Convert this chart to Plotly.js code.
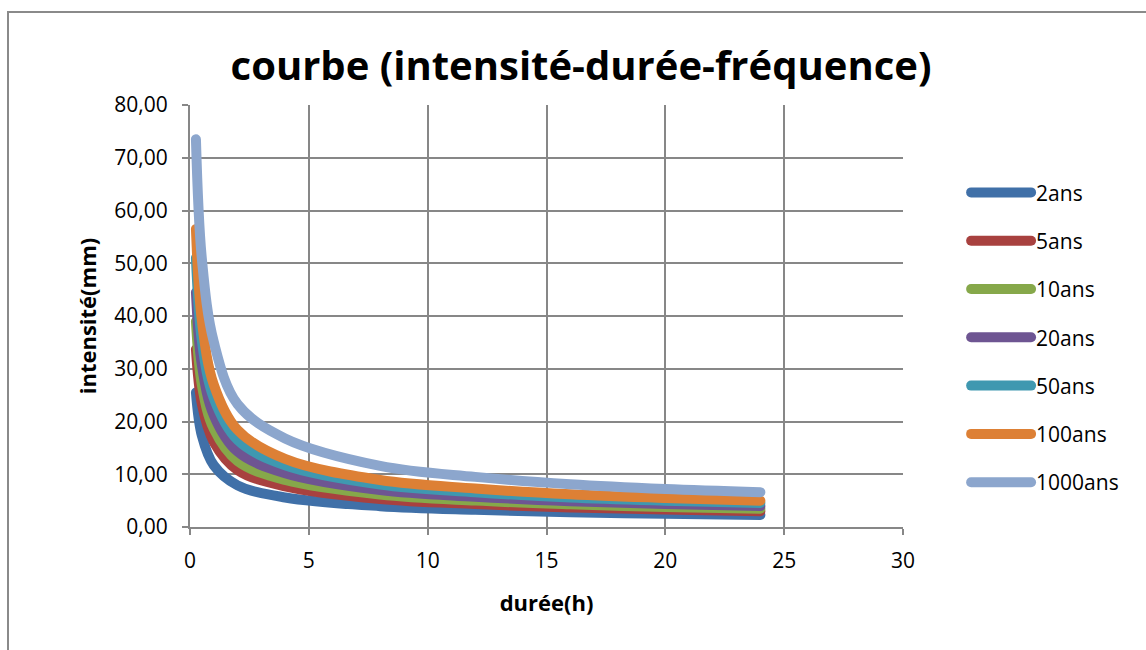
<!DOCTYPE html>
<html>
<head>
<meta charset="utf-8">
<script src="https://cdn.plot.ly/plotly-3.0.1.min.js"></script>
<style>
  html, body { margin: 0; padding: 0; background: #fff; }
  #wrap { position: relative; width: 1146px; height: 650px; }
  #chart { width: 1146px; height: 650px; }
  #frame { position: absolute; left: 7px; top: 11px; width: 1150px; height: 700px;
           border-top: 2px solid #8a8a8a; border-left: 2px solid #8a8a8a; pointer-events: none; }
  .scatterlayer path.js-line, .legendlines path { stroke-linecap: round; stroke-linejoin: round; }
</style>
</head>
<body>
<div id="wrap">
  <div id="chart"></div>
  <div id="frame"></div>
</div>
<script>
// durations (h)
const durations = [0.25, 0.5, 1, 2, 4, 8, 12, 16, 20, 24];

// intensities per return period
const ans2    = [25.5, 17.3, 11.7, 7.9, 5.6, 3.95, 3.25, 2.8, 2.5, 2.28];
const ans5    = [33.7, 23.3, 16.1, 10.8, 7.7, 5.3, 4.35, 3.7, 3.3, 3.0];
const ans10   = [39.0, 26.9, 18.6, 12.5, 8.9, 6.15, 5.0, 4.3, 3.8, 3.48];
const ans20   = [44.5, 30.7, 21.2, 14.3, 10.2, 7.0, 5.75, 4.9, 4.35, 3.97];
const ans50   = [51.0, 35.3, 24.4, 16.5, 11.7, 8.05, 6.6, 5.6, 5.0, 4.55];
const ans100  = [56.5, 39.1, 27.0, 18.4, 12.9, 8.9, 7.3, 6.2, 5.5, 5.0];
const ans1000 = [73.5, 50.8, 35.1, 23.3, 16.8, 11.6, 9.5, 8.1, 7.2, 6.6];

const seriesNames = ["2ans", "5ans", "10ans", "20ans", "50ans", "100ans", "1000ans"];
const seriesValues = [ans2, ans5, ans10, ans20, ans50, ans100, ans1000];
const seriesColors = ["#4070A8", "#A8413F", "#86A84A", "#6E5592", "#3F98B0", "#DD8035", "#8CA6CD"];

const traces = seriesNames.map((name, i) => ({
  type: "scatter",
  mode: "lines",
  name: name,
  x: durations,
  y: seriesValues[i],
  legendgroup: name,
  line: { color: seriesColors[i], width: 10, shape: "spline", smoothing: 1 }
}));

const gridColor = "#878787";
const fontFam = "'Open Sans', 'Liberation Sans', sans-serif";

const layout = {
  width: 1146,
  height: 650,
  paper_bgcolor: "rgba(0,0,0,0)",
  plot_bgcolor: "#ffffff",
  separators: ", ",
  margin: { l: 190, r: 243, t: 105, b: 123 },
  showlegend: true,
  title: {
    text: "<b>courbe (intensité-durée-fréquence)</b>",
    font: { family: fontFam, size: 40, color: "#000" },
    xref: "container", x: 0.507, xanchor: "center",
    yref: "container", y: 0.898, yanchor: "middle"
  },
  xaxis: {
    range: [0, 30],
    dtick: 5,
    tick0: 0,
    showgrid: true,
    gridcolor: gridColor,
    gridwidth: 2,
    zeroline: false,
    showline: true,
    linecolor: gridColor,
    linewidth: 2,
    ticks: "outside",
    ticklen: 6,
    tickwidth: 2,
    tickcolor: gridColor,
    ticklabelstandoff: 8,
    tickfont: { family: fontFam, size: 21, color: "#000" },
    title: { text: "<b>durée(h)</b>", font: { family: fontFam, size: 22, color: "#000" }, standoff: 22 }
  },
  yaxis: {
    range: [0, 80],
    dtick: 10,
    tick0: 0,
    tickformat: ".2f",
    showgrid: true,
    gridcolor: gridColor,
    gridwidth: 2,
    zeroline: false,
    showline: true,
    linecolor: gridColor,
    linewidth: 2,
    ticks: "outside",
    ticklen: 6,
    tickwidth: 2,
    tickcolor: gridColor,
    ticklabelstandoff: 10,
    tickfont: { family: fontFam, size: 21, color: "#000" },
    title: { text: "<b>intensité(mm)</b>", font: { family: fontFam, size: 22, color: "#000" }, standoff: 12 }
  },
  legend: {
    x: 0.843, xref: "container", xanchor: "left",
    y: 0.735, yref: "container", yanchor: "top",
    font: { family: fontFam, size: 21, color: "#000" },
    tracegroupgap: 18,
    bgcolor: "rgba(0,0,0,0)",
    itemwidth: 60
  }
};

Plotly.newPlot("chart", traces, layout, { displayModeBar: false, staticPlot: true });
</script>
</body>
</html>
